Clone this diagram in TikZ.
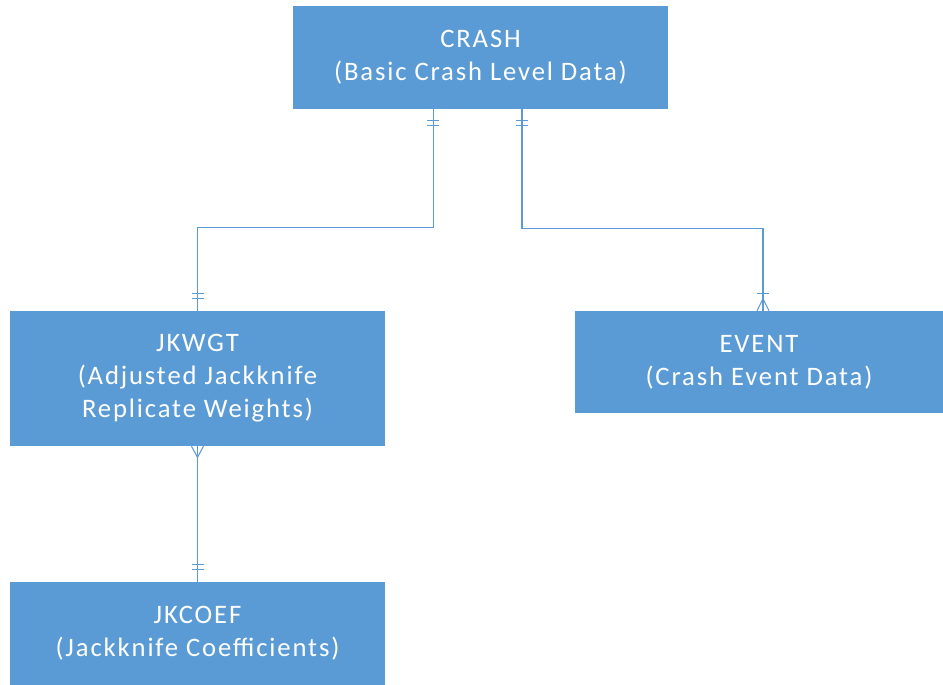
\documentclass[tikz,border=0pt]{standalone}
\usepackage{fontspec}
\setmainfont{Carlito}
\newfontfamily\tablefont[LetterSpace=7]{Carlito}
\usetikzlibrary{calc}
\definecolor{tableblue}{HTML}{5B9BD5}
\tikzset{
  table/.style={fill=tableblue, text=white, align=center, inner sep=0pt,
    font=\tablefont\fontsize{20}{24.75}\selectfont},
  rel/.style={draw=tableblue, line width=0.8pt},
  edge/.style={draw=white, line width=0.8pt, dash pattern=on 1.5pt off 1.5pt}
}
\begin{document}
\begin{tikzpicture}[x=0.75pt,y=-0.75pt]
    \useasboundingbox (0,0) rectangle (943,685);

    % Tabelas
    \node[table, minimum width=281.25pt, minimum height=77.25pt] (crash) at (480.5,57.5) {CRASH\\(Basic Crash Level Data)};
    \node[table, minimum width=281.25pt, minimum height=101.25pt] (jkwgt) at (197.5,378.5) {JKWGT\\(Adjusted Jackknife\\Replicate Weights)};
    \node[table, minimum width=276pt, minimum height=76.5pt] (event) at (759,362) {EVENT\\(Crash Event Data)};
    \node[table, minimum width=281.25pt, minimum height=77.25pt] (jkcoef) at (197.5,633.5) {JKCOEF\\(Jackknife Coefficients)};

    % Bordas inferiores pontilhadas
    \draw[edge] (crash.south west) -- (crash.south east);
    \draw[edge] (jkwgt.south west) -- (jkwgt.south east);
    \draw[edge] (event.south west) -- (event.south east);

    % Ligacoes
    \draw[rel] ([xshift=-35.6pt]crash.south) -- ++(0,118) -| (jkwgt.north);
    \draw[rel] ([xshift=31.1pt]crash.south) -- ++(0,119) -| ([xshift=3pt]event.north);
    \draw[rel] (jkwgt.south) -- (jkcoef.north);

    % Marcas de cardinalidade
    \draw[rel] ($(crash.south)+(-53.5,11)$) -- ++(12,0);
    \draw[rel] ($(crash.south)+(-53.5,16)$) -- ++(12,0);
    \draw[rel] ($(crash.south)+(35.5,11)$) -- ++(12,0);
    \draw[rel] ($(crash.south)+(35.5,16)$) -- ++(12,0);
    \draw[rel] ($(jkwgt.north)+(-6,-17)$) -- ++(12,0);
    \draw[rel] ($(jkwgt.north)+(-6,-12)$) -- ++(12,0);
    \draw[rel] ($(event.north)+(-2,-17)$) -- ++(12,0);
    \draw[rel] ($(event.north)+(-2,0)$) -- ($(event.north)+(4,-12)$) -- ($(event.north)+(10,0)$);
    \draw[rel] ($(jkwgt.south)+(-6,0)$) -- ($(jkwgt.south)+(0,11)$) -- ($(jkwgt.south)+(6,0)$);
    \draw[rel] ($(jkcoef.north)+(-6,-17)$) -- ++(12,0);
    \draw[rel] ($(jkcoef.north)+(-6,-12)$) -- ++(12,0);
\end{tikzpicture}
\end{document}
